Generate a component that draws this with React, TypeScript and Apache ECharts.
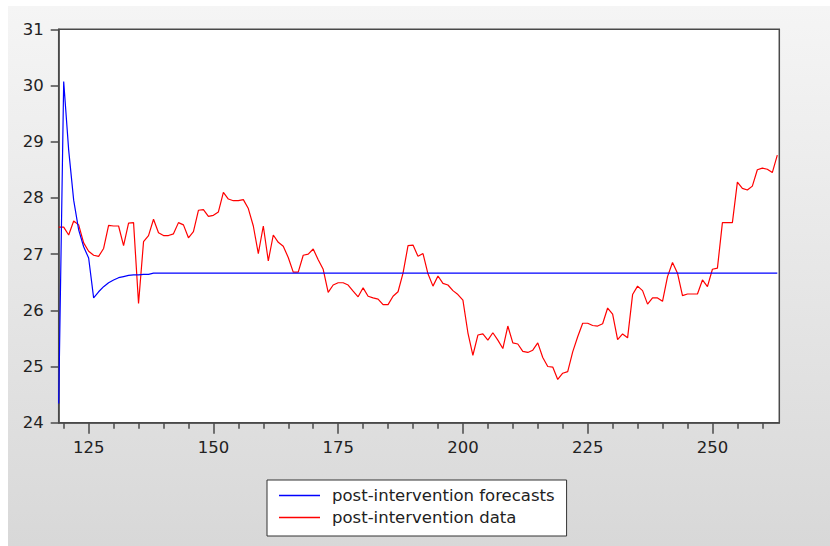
import React, { useEffect, useRef } from "react";
import * as echarts from "echarts";

// observation index of the first value
const startObs = 119;

// post-intervention data (red), obs 119..263
const dataValues = [
  27.48, 27.48, 27.34, 27.59, 27.52, 27.2, 27.05, 26.98, 26.96, 27.1,
  27.51, 27.5, 27.5, 27.15, 27.55, 27.56, 26.12, 27.22, 27.33, 27.62,
  27.38, 27.33, 27.33, 27.36, 27.56, 27.52, 27.29, 27.4, 27.78, 27.79,
  27.67, 27.69, 27.75, 28.1, 27.98, 27.95, 27.95, 27.97, 27.81, 27.5,
  27.01, 27.5, 26.88, 27.34, 27.21, 27.14, 26.94, 26.68, 26.68, 26.98,
  27.0, 27.09, 26.9, 26.73, 26.32, 26.45, 26.49, 26.49, 26.45, 26.34,
  26.24, 26.4, 26.25, 26.22, 26.2, 26.1, 26.1, 26.25, 26.33, 26.66,
  27.15, 27.16, 26.96, 27.01, 26.65, 26.43, 26.61, 26.48, 26.45, 26.35,
  26.28, 26.18, 25.6, 25.2, 25.56, 25.58, 25.47, 25.6, 25.47, 25.32,
  25.72, 25.42, 25.4, 25.27, 25.25, 25.29, 25.42, 25.16, 25.0, 24.99,
  24.77, 24.88, 24.91, 25.26, 25.53, 25.77, 25.77, 25.73, 25.72, 25.76,
  26.04, 25.93, 25.48, 25.58, 25.51, 26.28, 26.43, 26.35, 26.11, 26.22,
  26.22, 26.16, 26.6, 26.85, 26.66, 26.26, 26.29, 26.29, 26.29, 26.54,
  26.42, 26.73, 26.75, 27.56, 27.56, 27.56, 28.28, 28.17, 28.14, 28.21,
  28.5, 28.53, 28.51, 28.45, 28.76,
];

// post-intervention forecasts (blue), obs 119..263
const forecastValues = [
  24.34, 30.07, 28.85, 27.96, 27.43, 27.13, 26.93, 26.22, 26.33, 26.42,
  26.49, 26.54, 26.58, 26.6, 26.62, 26.63, 26.63, 26.64, 26.64, 26.66,
  26.66, 26.66, 26.66, 26.66, 26.66, 26.66, 26.66, 26.66, 26.66, 26.66,
  26.66, 26.66, 26.66, 26.66, 26.66, 26.66, 26.66, 26.66, 26.66, 26.66,
  26.66, 26.66, 26.66, 26.66, 26.66, 26.66, 26.66, 26.66, 26.66, 26.66,
  26.66, 26.66, 26.66, 26.66, 26.66, 26.66, 26.66, 26.66, 26.66, 26.66,
  26.66, 26.66, 26.66, 26.66, 26.66, 26.66, 26.66, 26.66, 26.66, 26.66,
  26.66, 26.66, 26.66, 26.66, 26.66, 26.66, 26.66, 26.66, 26.66, 26.66,
  26.66, 26.66, 26.66, 26.66, 26.66, 26.66, 26.66, 26.66, 26.66, 26.66,
  26.66, 26.66, 26.66, 26.66, 26.66, 26.66, 26.66, 26.66, 26.66, 26.66,
  26.66, 26.66, 26.66, 26.66, 26.66, 26.66, 26.66, 26.66, 26.66, 26.66,
  26.66, 26.66, 26.66, 26.66, 26.66, 26.66, 26.66, 26.66, 26.66, 26.66,
  26.66, 26.66, 26.66, 26.66, 26.66, 26.66, 26.66, 26.66, 26.66, 26.66,
  26.66, 26.66, 26.66, 26.66, 26.66, 26.66, 26.66, 26.66, 26.66, 26.66,
  26.66, 26.66, 26.66, 26.66, 26.66,
];

const xLabelValues = [125, 150, 175, 200, 225, 250];
const xMinorTickValues = [120, 130, 135, 140, 145, 155, 160, 165, 170, 180, 185, 190, 195, 205, 210, 215, 220, 230, 235, 240, 245, 255, 260];

const seriesNames = ["post-intervention forecasts", "post-intervention data"];

export default function App() {
  const ref = useRef<HTMLDivElement>(null);

  useEffect(() => {
    document.body.style.margin = "0";
    if (!ref.current) return;
    const chart = echarts.init(ref.current, null, { renderer: "svg" });
    const toPairs = (vals: number[]) => vals.map((v, i) => [startObs + i, v]);
    const font = "'DejaVu Sans', Verdana, sans-serif";
    const axisColor = "#4a4a4a";
    chart.setOption({
      animation: false,
      backgroundColor: "transparent",
      grid: {
        left: 50.7,
        top: 23.3,
        width: 720.6,
        height: 393.4,
        show: true,
        backgroundColor: "#ffffff",
        borderColor: axisColor,
        borderWidth: 1.5,
      },
      legend: {
        data: seriesNames,
        orient: "vertical",
        left: 259,
        top: 474,
        icon: "rect",
        itemWidth: 41,
        itemHeight: 1.5,
        itemGap: 5,
        padding: [7, 12, 10, 12],
        backgroundColor: "#ffffff",
        borderColor: "#333333",
        borderWidth: 1,
        borderRadius: 0,
        textStyle: {
          fontFamily: font,
          fontSize: 16.5,
          color: "#222222",
          padding: [0, 0, 0, 7],
        },
      },
      xAxis: [
        {
          type: "value",
          min: startObs,
          max: 263.4,
          axisLine: { show: true, lineStyle: { color: axisColor, width: 1.5 } },
          axisTick: {
            show: true,
            inside: false,
            length: 11,
            customValues: xLabelValues,
            lineStyle: { color: axisColor, width: 1.5 },
          },
          axisLabel: {
            customValues: xLabelValues,
            fontFamily: font,
            fontSize: 16.5,
            color: "#222222",
            margin: 16,
          },
          splitLine: { show: false },
        },
        {
          type: "value",
          min: startObs,
          max: 263.4,
          position: "bottom",
          axisLine: { show: false },
          axisTick: {
            show: true,
            inside: false,
            length: 6,
            customValues: xMinorTickValues,
            lineStyle: { color: axisColor, width: 1.5 },
          },
          axisLabel: { show: false },
          splitLine: { show: false },
        },
      ],
      yAxis: {
        type: "value",
        min: 24,
        max: 31,
        interval: 1,
        axisLine: { show: true, lineStyle: { color: axisColor, width: 1.5 } },
        axisTick: { show: true, inside: false, length: 8, lineStyle: { color: axisColor, width: 1.5 } },
        axisLabel: { fontFamily: font, fontSize: 16.5, color: "#222222", margin: 15 },
        splitLine: { show: false },
      },
      series: [
        {
          name: seriesNames[0],
          type: "line",
          xAxisIndex: 0,
          data: toPairs(forecastValues),
          symbol: "none",
          lineStyle: { color: "#0000ff", width: 1.2 },
          itemStyle: { color: "#0000ff" },
          z: 3,
        },
        {
          name: seriesNames[1],
          type: "line",
          xAxisIndex: 0,
          data: toPairs(dataValues),
          symbol: "none",
          lineStyle: { color: "#ff0000", width: 1.2 },
          itemStyle: { color: "#ff0000" },
          z: 2,
        },
      ],
    });
    return () => chart.dispose();
  }, []);

  return (
    <div
      ref={ref}
      style={{
        width: 822,
        height: 540,
        margin: "6px 0 0 8px",
        background: "linear-gradient(#f5f5f5, #d8d8d8)",
      }}
    />
  );
}
